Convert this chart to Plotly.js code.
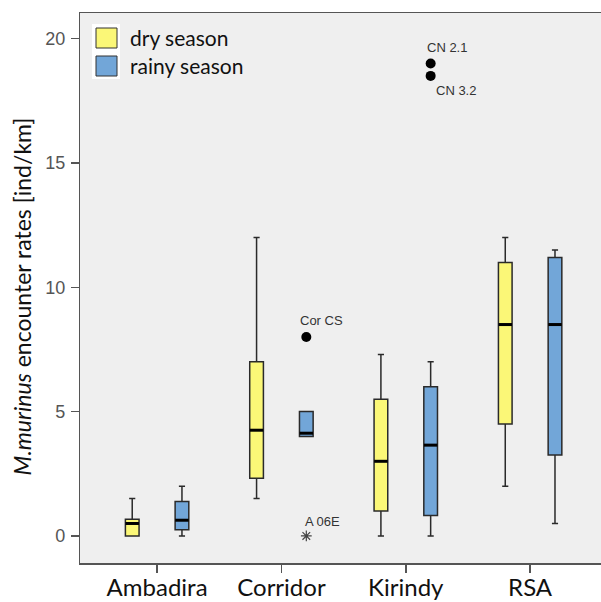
<!DOCTYPE html>
<html>
<head>
<meta charset="utf-8">
<script src="https://cdn.plot.ly/plotly-3.0.1.min.js"></script>
<style>
html,body{margin:0;padding:0;background:#fff;}
#chart{width:601px;height:602px;}
</style>
</head>
<body>
<div id="chart"></div>
<script>
// ---- data ----
const categories = ['Ambadira', 'Corridor', 'Kirindy', 'RSA'];
const seasons = ['dry season', 'rainy season'];

const dryLower  = [0,    1.5,  0,    2.0];
const dryQ1     = [0,    2.32, 1.0,  4.5];
const dryMedian = [0.5,  4.25, 3.0,  8.5];
const dryQ3     = [0.67, 7.0,  5.5,  11.0];
const dryUpper  = [1.5,  12.0, 7.3,  12.0];

const rainyLower  = [0,    4.0,  0,    0.5];
const rainyQ1     = [0.25, 4.0,  0.82, 3.25];
const rainyMedian = [0.63, 4.13, 3.65, 8.5];
const rainyQ3     = [1.38, 5.0,  6.0,  11.2];
const rainyUpper  = [2.0,  5.0,  7.0,  11.5];

const outlierCategory = ['Corridor', 'Corridor', 'Kirindy', 'Kirindy'];
const outlierSeason   = ['rainy season', 'rainy season', 'rainy season', 'rainy season'];
const outlierValue    = [8.0, 0.0, 19.0, 18.5];
const outlierLabel    = ['Cor CS', 'A 06E', 'CN 2.1', 'CN 3.2'];
const outlierKind     = ['outlier', 'extreme', 'outlier', 'outlier'];

// ---- styles ----
const seasonOffset = {'dry season': -0.2, 'rainy season': 0.2};
const seasonColor = {'dry season': '#fbf777', 'rainy season': '#72a6d8'};
const boxWidth = 0.11;
const labelShift = {
  'Cor CS': {xs: -8, ys: 16, anchor: 'left'},
  'A 06E':  {xs: -3, ys: 14, anchor: 'left'},
  'CN 2.1': {xs: -6, ys: 16, anchor: 'left'},
  'CN 3.2': {xs: 3, ys: -15, anchor: 'left'}
};

const catIndex = c => categories.indexOf(c);
const posFor = (season) => categories.map((c, i) => i + seasonOffset[season]);

function boxTrace(season, lo, q1, med, q3, hi) {
  return {
    type: 'box', orientation: 'v', name: season,
    x: posFor(season), q1: q1, median: med, q3: q3,
    lowerfence: lo, upperfence: hi,
    width: boxWidth, whiskerwidth: 0.45,
    fillcolor: seasonColor[season],
    line: {color: '#2a2a2a', width: 1.5},
    boxpoints: false, showlegend: false, hoverinfo: 'skip'
  };
}
function medianTrace(season, med) {
  return {
    type: 'scatter', mode: 'markers', x: posFor(season), y: med,
    marker: {symbol: 'line-ew', size: 9.6, line: {color: '#000', width: 3}},
    showlegend: false, hoverinfo: 'skip'
  };
}

const data = [
  boxTrace('dry season', dryLower, dryQ1, dryMedian, dryQ3, dryUpper),
  boxTrace('rainy season', rainyLower, rainyQ1, rainyMedian, rainyQ3, rainyUpper),
  medianTrace('dry season', dryMedian),
  medianTrace('rainy season', rainyMedian)
];

const outX = outlierCategory.map((c, i) => catIndex(c) + seasonOffset[outlierSeason[i]]);
const isOut = outlierKind.map(k => k === 'outlier');
data.push({
  type: 'scatter', mode: 'markers',
  x: outX.filter((v, i) => isOut[i]), y: outlierValue.filter((v, i) => isOut[i]),
  marker: {symbol: 'circle', size: 10, color: '#000'},
  showlegend: false, hoverinfo: 'skip'
});
data.push({
  type: 'scatter', mode: 'markers',
  x: outX.filter((v, i) => !isOut[i]), y: outlierValue.filter((v, i) => !isOut[i]),
  marker: {symbol: 'asterisk-open', size: 9, color: '#444', line: {color: '#444', width: 1.2}},
  showlegend: false, hoverinfo: 'skip'
});

const annotations = outlierLabel.map((lab, i) => ({
  x: outX[i], y: outlierValue[i], xref: 'x', yref: 'y',
  text: lab, showarrow: false, xanchor: labelShift[lab].anchor, yanchor: 'middle',
  xshift: labelShift[lab].xs, yshift: labelShift[lab].ys,
  font: {family: 'Liberation Sans, Arial, sans-serif', size: 13, color: '#333'}
}));

// y axis title
annotations.push({
  xref: 'paper', yref: 'paper', x: -0.112, y: 0.484, xanchor: 'center', yanchor: 'middle',
  textangle: -90, showarrow: false,
  text: '<i>M.murinus</i> encounter rates [ind/km]',
  font: {family: 'Lato, sans-serif', size: 23, color: '#111'}
});

// custom legend
const PW = 521, PH = 550, L = 80, B = 563;
const px = v => (v - L) / PW;
const py = v => (B - v) / PH;
const shapes = [
  {type: 'rect', xref: 'paper', yref: 'paper', x0: px(92), x1: px(120), y0: py(79), y1: py(24),
   fillcolor: '#ffffff', line: {width: 0}, layer: 'above'}
];
const legendRows = [28, 56];
seasons.forEach((s, k) => {
  shapes.push({type: 'rect', xref: 'paper', yref: 'paper',
    x0: px(96), x1: px(117), y0: py(legendRows[k] + 20), y1: py(legendRows[k]),
    fillcolor: seasonColor[s], line: {color: '#333', width: 1}, layer: 'above'});
  annotations.push({xref: 'paper', yref: 'paper', x: px(128), y: py(legendRows[k] + 10),
    xanchor: 'left', yanchor: 'middle', showarrow: false, text: s,
    font: {family: 'Lato, sans-serif', size: 21, color: '#111'}});
});

const layout = {
  width: 601, height: 602,
  margin: {l: 80, r: 0, t: 13, b: 39, pad: 0},
  paper_bgcolor: '#ffffff', plot_bgcolor: '#efefef',
  showlegend: false, boxmode: 'overlay',
  xaxis: {
    range: [-0.62, 3.57], tickmode: 'array',
    tickvals: categories.map((c, i) => i), ticktext: categories,
    showgrid: false, zeroline: false,
    showline: true, mirror: true, linecolor: '#555', linewidth: 1.5,
    ticks: 'outside', ticklen: 8, tickcolor: '#555', tickwidth: 1.5,
    ticklabelstandoff: -5,
    tickfont: {family: 'Lato, sans-serif', size: 24, color: '#111'}
  },
  yaxis: {
    range: [-1.09, 21.03], tickvals: [0, 5, 10, 15, 20],
    showgrid: false, zeroline: false,
    showline: true, linecolor: '#555', linewidth: 1.2,
    ticks: 'outside', ticklen: 8, tickcolor: '#555', tickwidth: 1.2,
    ticklabelstandoff: 2,
    tickfont: {family: 'Liberation Sans, Arial, sans-serif', size: 18, color: '#555'}
  },
  annotations: annotations,
  shapes: shapes
};

Plotly.newPlot('chart', data, layout, {displayModeBar: false, staticPlot: true});
</script>
</body>
</html>
